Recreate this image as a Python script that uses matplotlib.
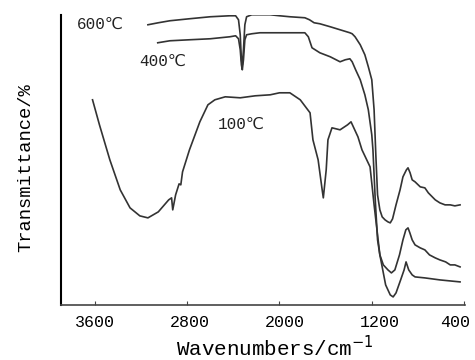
import numpy as np
import matplotlib
matplotlib.use('Agg')
import matplotlib.pyplot as plt
import matplotlib.transforms as mtransforms

plt.rcParams['font.family'] = ['Liberation Mono', 'DejaVu Sans Mono', 'DejaVu Sans']

# wavenumber (cm-1) and transmittance (arbitrary units)
wn_600 = [3140, 3050, 2950, 2780, 2600, 2430, 2380, 2355, 2340, 2330, 2322, 2312, 2300, 2285,
          2240, 2170, 2080, 2000, 1910, 1780, 1740, 1700, 1650, 1560, 1475, 1390, 1370, 1345,
          1300, 1260, 1230, 1200, 1180, 1165, 1150, 1130, 1110, 1085, 1060, 1040, 1020, 990,
          955, 930, 900, 886, 868, 850, 825, 780, 740, 710, 650, 610, 565, 520, 480, 435]
tr_600 = [280, 282, 284, 286, 288, 289, 289, 285, 270, 245, 240, 255, 280, 288,
          290, 290, 290, 289, 288, 287, 285, 282, 281, 278, 275, 272, 271, 268,
          260, 250, 238, 225, 195, 150, 110, 95, 88, 85, 83, 82, 86, 100,
          115, 128, 135, 137, 132, 125, 123, 118, 117, 112, 105, 102, 100, 100, 99, 100]

wn_400 = [3055, 2950, 2780, 2600, 2430, 2380, 2355, 2340, 2330, 2322, 2312, 2300, 2285, 2240,
          2170, 2080, 1910, 1780, 1750, 1718, 1650, 1560, 1475, 1430, 1390, 1370, 1340, 1300,
          1260, 1230, 1200, 1190, 1170, 1150, 1130, 1100, 1060, 1030, 1000, 960, 930, 905,
          886, 870, 850, 825, 780, 740, 700, 650, 610, 560, 520, 480, 435]
tr_400 = [262, 264, 265, 266, 268, 269, 266, 255, 240, 235, 245, 265, 270, 271,
          272, 272, 272, 272, 268, 257, 252, 248, 243, 245, 246, 243, 235, 225,
          210, 195, 170, 155, 105, 65, 50, 40, 35, 32, 35, 50, 65, 75,
          77, 72, 65, 60, 57, 55, 50, 47, 45, 43, 40, 40, 38]

wn_100 = [3620, 3560, 3470, 3380, 3295, 3210, 3140, 3050, 2960, 2935, 2925, 2900, 2870, 2855,
          2840, 2780, 2690, 2620, 2560, 2470, 2340, 2210, 2080, 2000, 1910, 1820, 1735, 1710,
          1665, 1630, 1620, 1595, 1580, 1545, 1475, 1410, 1380, 1320, 1285, 1215, 1180, 1130,
          1080, 1040, 1015, 990, 950, 920, 903, 880, 850, 825, 740, 610, 435]
tr_100 = [205, 180, 145, 115, 97, 89, 87, 93, 105, 107, 95, 110, 121, 120,
          133, 155, 183, 200, 205, 208, 207, 209, 210, 212, 212, 205, 192, 165,
          145, 115, 107, 135, 165, 177, 175, 180, 183, 168, 155, 138, 100, 50,
          20, 10, 8, 12, 25, 35, 43, 35, 30, 28, 27, 25, 23]

xticks = [3600, 2800, 2000, 1200, 400]
# small sideways shift (px) of each tick label, as in the scan
label_shift = [0, 3, 5, 8, -9]

fig = plt.figure(figsize=(4.75, 3.6), dpi=100)
ax = fig.add_axes([0.128, 0.153, 0.851, 0.806])

for wn, tr in [(wn_600, tr_600), (wn_400, tr_400), (wn_100, tr_100)]:
    ax.plot(wn, tr, color='#333333', lw=1.2)

ax.text(3756, 280, '600℃', fontsize=11.5, va='center', ha='left', color='#222222')
ax.text(3218, 243, '400℃', fontsize=11.5, va='center', ha='left', color='#222222')
ax.text(2533, 180, '100℃', fontsize=11.5, va='center', ha='left', color='#222222')

ax.set_xlim(3895, 392)
ax.set_ylim(0, 290)
ax.set_xticks(xticks)
ax.set_yticks([])
ax.tick_params(axis='x', direction='in', length=3, pad=7, labelsize=12, color='#444444')

for lab, dx in zip(ax.get_xticklabels(), label_shift):
    lab.set_transform(lab.get_transform() + mtransforms.ScaledTranslation(dx / 100, 0, fig.dpi_scale_trans))

for s in ['top', 'right']:
    ax.spines[s].set_visible(False)
ax.spines['left'].set_linewidth(1.5)
ax.spines['bottom'].set_linewidth(1.2)
ax.spines['bottom'].set_color('#444444')

ax.set_xlabel('Wavenumbers/cm$^{-1}$', fontsize=15)
ax.xaxis.set_label_coords(0.53, -0.105)
ax.set_ylabel('Transmittance/%', fontsize=13.5)
ax.yaxis.set_label_coords(-0.066, 0.472)

fig.savefig('out.png', dpi=100)
